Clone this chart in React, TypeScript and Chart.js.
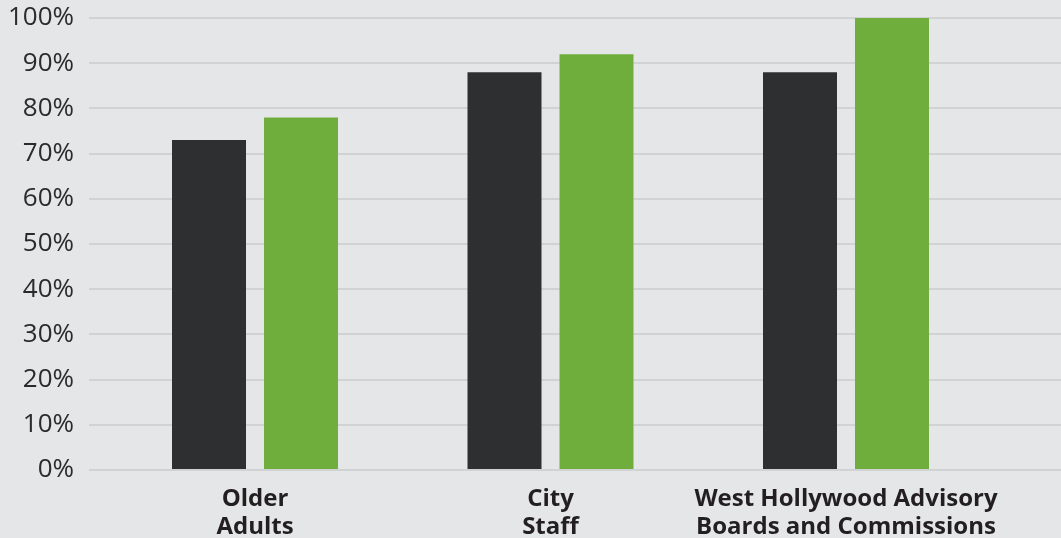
import React, { useEffect, useRef } from "react";
import { Chart, registerables } from "chart.js";

Chart.register(...registerables);

const categories: string[][] = [
  ["Older", "Adults"],
  ["City", "Staff"],
  ["West Hollywood Advisory", "Boards and Commissions"],
];
const darkValues: number[] = [73, 88, 88];
const greenValues: number[] = [78, 92, 100];
const yTicks: number[] = [0, 10, 20, 30, 40, 50, 60, 70, 80, 90, 100];

const BG = "#e5e6e8";

export default function App() {
  const ref = useRef<HTMLCanvasElement | null>(null);

  useEffect(() => {
    document.body.style.margin = "0";
    document.body.style.background = BG;
    if (!ref.current) return;
    const chart = new Chart(ref.current, {
      type: "bar",
      data: {
        datasets: [
          {
            label: "dark",
            data: darkValues.map((v, i) => ({ x: i, y: v })),
            backgroundColor: "#2e2f31",
            borderWidth: 0,
            categoryPercentage: 0.6227,
            barPercentage: 0.8043,
          },
          {
            label: "green",
            data: greenValues.map((v, i) => ({ x: i, y: v })),
            backgroundColor: "#6fae3c",
            borderWidth: 0,
            categoryPercentage: 0.6227,
            barPercentage: 0.8043,
          },
        ],
      },
      options: {
        animation: false,
        responsive: false,
        maintainAspectRatio: false,
        layout: { padding: { top: 18, right: 0, bottom: 0, left: 0 } },
        plugins: {
          legend: { display: false },
          tooltip: { enabled: false },
        },
        scales: {
          x: {
            type: "linear",
            offset: false,
            min: -0.5618,
            max: 2.7276,
            grid: { display: false, offset: false },
            border: { display: false },
            afterBuildTicks: (scale: any) => {
              scale.ticks = categories.map((_, i) => ({ value: i }));
            },
            afterFit: (scale: any) => {
              scale.height = 68;
              scale.paddingLeft = 0;
              scale.paddingRight = 0;
            },
            ticks: {
              autoSkip: false,
              maxRotation: 0,
              padding: 7,
              color: "#231f20",
              font: { family: "'Open Sans'", size: 24, weight: "bold", lineHeight: 1.17 },
              callback: (v: any) => categories[Math.round(Number(v))] ?? "",
            },
          },
          y: {
            min: 0,
            max: 100,
            afterBuildTicks: (scale: any) => {
              scale.ticks = yTicks.map((v) => ({ value: v }));
            },
            afterFit: (scale: any) => {
              scale.width = 89;
              scale.paddingTop = 0;
              scale.paddingBottom = 0;
            },
            grid: { color: "#d1d2d4", lineWidth: 2, drawTicks: false },
            border: { display: false },
            ticks: {
              padding: 15,
              color: "#2b2b2b",
              font: { family: "'Open Sans'", size: 26 },
              callback: (v: any) => `${v}%`,
            },
          },
        },
      },
    });
    return () => chart.destroy();
  }, []);

  return (
    <div style={{ width: 1061, height: 538, background: BG }}>
      <canvas ref={ref} width={1061} height={538} style={{ display: "block" }} />
    </div>
  );
}
